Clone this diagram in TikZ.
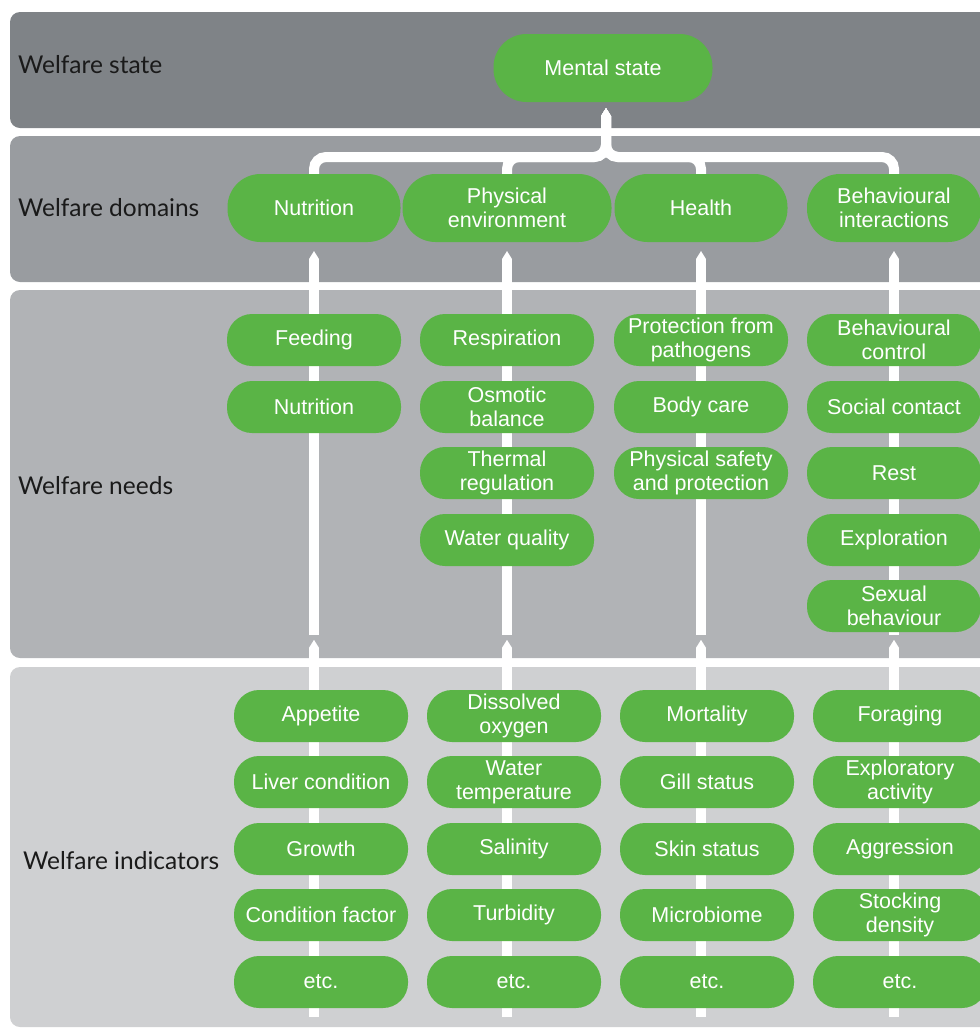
\documentclass[tikz,border=0pt]{standalone}
\usepackage{fontspec}
\setmainfont{Liberation Sans}
\newfontfamily\bandfont{Lato}
\usetikzlibrary{arrows.meta,backgrounds}

\definecolor{boxgreen}{HTML}{5AB446}
\definecolor{stategray}{HTML}{7F8387}
\definecolor{domaingray}{HTML}{999CA0}
\definecolor{needgray}{HTML}{B1B3B6}
\definecolor{indgray}{HTML}{CFD0D2}
\definecolor{labelblack}{HTML}{1A1A1A}

\tikzset{
  band/.style={rounded corners=10pt},
  bandlabel/.style={anchor=west, inner sep=0pt, text=labelblack,
    font=\bandfont\fontsize{24.5}{28}\selectfont},
  pill/.style={fill=boxgreen, text=white, rounded corners=25pt,
    minimum width=174pt, minimum height=52pt, align=center, inner sep=0pt,
    font=\fontsize{21.5}{24}\selectfont},
  bigpill/.style={pill, rounded corners=33pt, minimum height=68pt},
  flow/.style={draw=white, line width=10pt},
  flowup/.style={flow, -{Triangle[length=8pt,width=10pt,line width=0.01pt]}},
}

\begin{document}
\begin{tikzpicture}[x=1pt,y=-1pt]
\useasboundingbox (0,0) rectangle (980,1029);

% bands
\begin{scope}[on background layer]
\fill[stategray,band] (10,12) rectangle (1000,128);
\fill[domaingray,band] (10,136) rectangle (1000,282);
\fill[needgray,band] (10,290) rectangle (1000,658);
\fill[indgray,band] (10,667) rectangle (1000,1027);
\end{scope}

\node[bandlabel] (lstate) at (18,65) {Welfare state};
\node[bandlabel] (ldomains) at (18,208) {Welfare domains};
\node[bandlabel] (lneeds) at (18,486) {Welfare needs};
\node[bandlabel] (lindicators) at (23,861) {Welfare indicators};

% state
\node[bigpill, minimum width=219pt] (ms) at (603,68) {Mental state};

% domains
\node[bigpill, minimum width=173pt] (dnut) at (314,208) {Nutrition};
\node[bigpill, minimum width=209pt] (dphys) at (507,208) {Physical\\environment};
\node[bigpill, minimum width=173pt] (dhealth) at (701,208) {Health};
\node[bigpill, minimum width=174pt] (dbeh) at (894,208) {Behavioural\\interactions};

% needs
\node[pill] (nfeed) at (314,340) {Feeding};
\node[pill] (nnutr) at (314,407) {Nutrition};

\node[pill] (nresp) at (507,340) {Respiration};
\node[pill] (nosmo) at (507,407) {Osmotic\\balance};
\node[pill] (ntherm) at (507,473) {Thermal\\regulation};
\node[pill] (nwater) at (507,540) {Water quality};

\node[pill] (npath) at (701,340) {Protection from\\pathogens};
\node[pill] (nbody) at (701,407) {Body care};
\node[pill] (nsafe) at (701,473) {Physical safety\\and protection};

\node[pill] (nbctl) at (894,340) {Behavioural\\control};
\node[pill] (nsoc) at (894,407) {Social contact};
\node[pill] (nrest) at (894,473) {Rest};
\node[pill] (nexpl) at (894,540) {Exploration};
\node[pill] (nsex) at (894,606) {Sexual\\behaviour};

% indicators
\node[pill] (iapp) at (321,716) {Appetite};
\node[pill] (iliver) at (321,782) {Liver condition};
\node[pill] (igrowth) at (321,849) {Growth};
\node[pill] (icond) at (321,915) {Condition factor};
\node[pill] (ietca) at (321,982) {etc.};

\node[pill] (idiss) at (514,716) {Dissolved\\oxygen};
\node[pill] (itemp) at (514,782) {Water\\temperature};
\node[pill] (isal) at (514,849) {Salinity};
\node[pill] (iturb) at (514,915) {Turbidity};
\node[pill] (ietcb) at (514,982) {etc.};

\node[pill] (imort) at (707,716) {Mortality};
\node[pill] (igill) at (707,782) {Gill status};
\node[pill] (iskin) at (707,849) {Skin status};
\node[pill] (imicro) at (707,915) {Microbiome};
\node[pill] (ietcc) at (707,982) {etc.};

\node[pill] (iforage) at (900,716) {Foraging};
\node[pill] (iexpl) at (900,782) {Exploratory\\activity};
\node[pill] (iaggr) at (900,849) {Aggression};
\node[pill] (istock) at (900,915) {Stocking\\density};
\node[pill] (ietcd) at (900,982) {etc.};

% flow lines behind the boxes
\coordinate (jn) at (606,157);
\coordinate (cnut) at (314,635);
\coordinate (cphys) at (507,635);
\coordinate (chealth) at (701,635);
\coordinate (cbeh) at (894,635);
\coordinate (bnut) at (314,1017);
\coordinate (bphys) at (507,1017);
\coordinate (bhealth) at (701,1017);
\coordinate (bbeh) at (894,1017);

\begin{scope}[on background layer]
\draw[flowup, rounded corners=12pt, shorten >=6pt] (dnut.north) |- (jn) -- (jn |- ms.south);
\draw[flowup, rounded corners=12pt, shorten >=6pt] (dphys.north) |- (jn) -- (jn |- ms.south);
\draw[flowup, rounded corners=12pt, shorten >=6pt] (dhealth.north) |- (jn) -- (jn |- ms.south);
\draw[flowup, rounded corners=12pt, shorten >=6pt] (dbeh.north) |- (jn) -- (jn |- ms.south);

\draw[flowup, shorten >=9pt] (cnut) -- (dnut.south);
\draw[flowup, shorten >=9pt] (cphys) -- (dphys.south);
\draw[flowup, shorten >=9pt] (chealth) -- (dhealth.south);
\draw[flowup, shorten >=9pt] (cbeh) -- (dbeh.south);

\draw[flowup, shorten >=5pt] (bnut) -- (cnut);
\draw[flowup, shorten >=5pt] (bphys) -- (cphys);
\draw[flowup, shorten >=5pt] (bhealth) -- (chealth);
\draw[flowup, shorten >=5pt] (bbeh) -- (cbeh);
\end{scope}
\end{tikzpicture}
\end{document}
